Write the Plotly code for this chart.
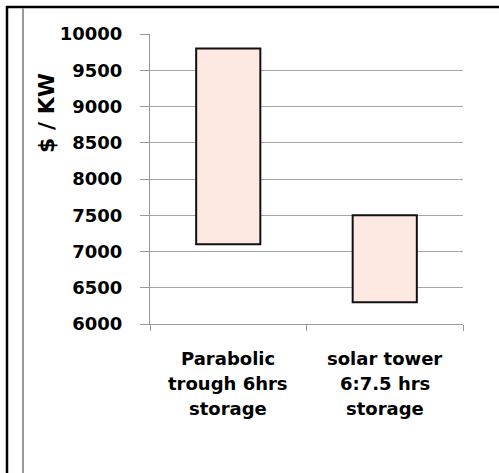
import plotly.graph_objects as go

categories = ["Parabolic<br>trough 6hrs<br>storage", "solar tower<br>6:7.5 hrs<br>storage"]
low_values = [7100, 6300]
high_values = [9800, 7500]
y_ticks = [6000, 6500, 7000, 7500, 8000, 8500, 9000, 9500, 10000]
y_title = "$ / KW"

W, H = 499, 473
L, R, T, B = 150, 36, 34, 149
pw, ph = W - L - R, H - T - B

def px_x(px):
    return (px - L) / pw

def px_y(py):
    return (H - B - py) / ph

FONT = "DejaVu Sans"

fig = go.Figure()
fig.add_trace(go.Bar(
    x=[0, 1],
    y=[h - l for h, l in zip(high_values, low_values)],
    base=low_values,
    width=0.41,
    marker=dict(color="#FDE9E1", line=dict(color="#111111", width=2)),
    hoverinfo="skip",
))

fig.update_layout(
    width=W, height=H,
    margin=dict(l=L, r=R, t=T, b=B),
    paper_bgcolor="white", plot_bgcolor="white",
    showlegend=False,
    xaxis=dict(
        range=[-0.5, 1.5],
        tickmode="array", tickvals=[-0.5, 0.5, 1.5], ticktext=["", "", ""],
        ticks="outside", ticklen=6, tickcolor="#999999", tickwidth=1,
        showline=True, linecolor="#999999", linewidth=1,
        showgrid=False, zeroline=False, fixedrange=True,
    ),
    yaxis=dict(
        range=[6000, 10000],
        tickmode="array", tickvals=y_ticks, ticktext=[str(v) for v in y_ticks],
        ticks="outside", ticklen=9, tickcolor="#999999", tickwidth=1,
        showline=True, linecolor="#999999", linewidth=1,
        showgrid=True, gridcolor="#a6a6a6", gridwidth=1,
        zeroline=False,
        tickfont=dict(family=FONT, size=18, color="black", weight="bold"),
        ticklabelstandoff=14,
    ),
)

# category labels, one annotation per line
for i, cat in enumerate(categories):
    for j, line in enumerate(cat.split("<br>")):
        fig.add_annotation(
            x=i, xref="x", y=px_y(358 + 25 * j), yref="paper",
            text=line, showarrow=False, xanchor="center", yanchor="middle",
            font=dict(family=FONT, size=18, color="black", weight="bold"),
        )

# y-axis title
fig.add_annotation(
    x=px_x(46), xref="paper", y=px_y(113), yref="paper",
    text=y_title, textangle=-90, showarrow=False,
    xanchor="center", yanchor="middle",
    font=dict(family=FONT, size=22, color="black", weight="bold"),
)

# frame lines
fig.add_shape(type="line", xref="paper", yref="paper",
              x0=px_x(7), x1=px_x(7), y0=px_y(6), y1=px_y(480),
              line=dict(color="black", width=2.5))
fig.add_shape(type="line", xref="paper", yref="paper",
              x0=px_x(6), x1=px_x(499), y0=px_y(7), y1=px_y(7),
              line=dict(color="black", width=2.5))
fig.add_shape(type="line", xref="paper", yref="paper",
              x0=px_x(23), x1=px_x(23), y0=px_y(8), y1=px_y(480),
              line=dict(color="#999999", width=2))

fig.write_html(
    "out.html",
    config={"displayModeBar": False, "staticPlot": True},
    post_script="document.body.style.margin='0';document.body.style.overflow='hidden';",
)
